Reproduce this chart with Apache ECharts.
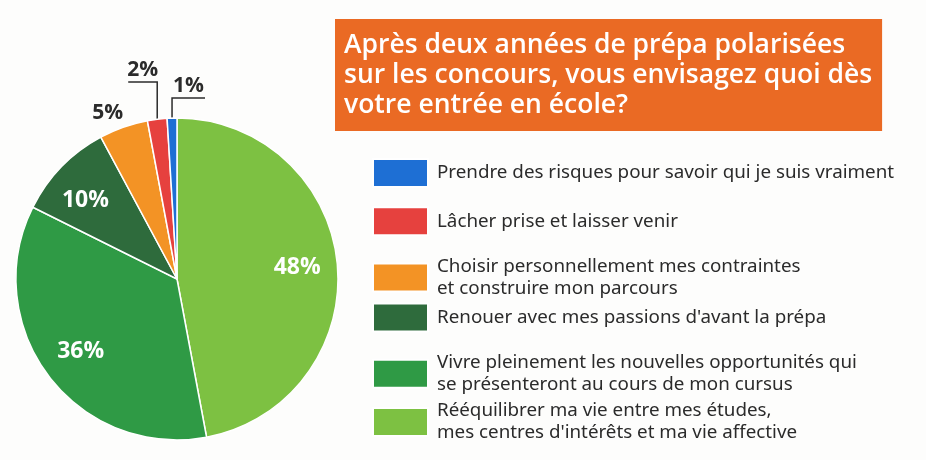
<!DOCTYPE html>
<html>
<head>
<meta charset="UTF-8">
<title>Après deux années de prépa</title>
<script src="https://cdn.jsdelivr.net/npm/echarts@6/dist/echarts.min.js"></script>
<style>
  html, body { margin: 0; padding: 0; background: #fdfdfc; }
  #main { width: 926px; height: 460px; }
</style>
</head>
<body>
<div id="main"></div>
<script>
// réponses, dans l'ordre du camembert (sens horaire depuis midi)
var names = [
  "Rééquilibrer ma vie entre mes études,\nmes centres d'intérêts et ma vie affective",
  "Vivre pleinement les nouvelles opportunités qui\nse présenteront au cours de mon cursus",
  "Renouer avec mes passions d'avant la prépa",
  "Choisir personnellement mes contraintes\net construire mon parcours",
  "Lâcher prise et laisser venir",
  "Prendre des risques pour savoir qui je suis vraiment"
];
var values = [48, 36, 10, 5, 2, 1];
var colors = ['#7dc142', '#2f9a45', '#2e6b3c', '#f39325', '#e6413e', '#1e6fd4'];
var titleText = "Après deux années de prépa polarisées\nsur les concours, vous envisagez quoi dès\nvotre entrée en école?";

var cx = 177, cy = 279, R = 161;
var total = values.reduce(function (a, b) { return a + b; }, 0);

// angle milieu de chaque part, en radians depuis midi, sens horaire
function midAngle(i) {
  var before = 0;
  for (var k = 0; k < i; k++) before += values[k];
  return (before + values[i] / 2) / total * Math.PI * 2;
}
function polar(a, r) {
  return [cx + r * Math.sin(a), cy - r * Math.cos(a)];
}

var myChart = echarts.init(document.getElementById('main'));

// légende : un bloc par ligne pour garder un pas régulier
var legends = [];
for (var i = names.length - 1; i >= 0; i--) {
  var row = names.length - 1 - i;
  legends.push({
    orient: 'vertical',
    left: 372,
    top: 158 + row * 48.2,
    padding: 0,
    itemWidth: 55,
    itemHeight: 28,
    icon: 'rect',
    selectedMode: false,
    data: [names[i]],
    textStyle: {
      fontFamily: 'Noto Sans',
      fontSize: 18.8,
      color: '#2b2b2b',
      lineHeight: 22,
      padding: [0, 0, 2, 4]
    }
  });
}

var pieData = values.map(function (v, i) {
  var d = { name: names[i], value: v, itemStyle: { color: colors[i] } };
  if (v < 8) {
    d.label = {
      position: 'outside',
      color: '#2b2b2b',
      fontSize: 21
    };
    d.labelLine = { show: v < 4 };
  }
  return d;
});

var option = {
  backgroundColor: '#fdfdfc',
  title: {
    text: titleText,
    left: 335,
    top: 19,
    backgroundColor: '#ea6a24',
    padding: [11, 10, 11, 9],
    textStyle: {
      fontFamily: 'Open Sans',
      fontWeight: 600,
      fontSize: 26.5,
      lineHeight: 30,
      color: '#ffffff',
      width: 526
    }
  },
  legend: legends,
  series: [{
    type: 'pie',
    center: [cx, cy],
    radius: R,
    startAngle: 90,
    clockwise: true,
    avoidLabelOverlap: false,
    silent: true,
    itemStyle: { borderColor: '#ffffff', borderWidth: 1.5 },
    label: {
      show: true,
      position: 'inside',
      formatter: '{c}%',
      fontFamily: 'Open Sans',
      fontWeight: 'bold',
      fontSize: 23,
      color: '#ffffff'
    },
    labelLine: {
      show: false,
      lineStyle: { color: '#2b2b2b', width: 1.5 }
    },
    labelLayout: function (p) {
      var i = p.dataIndex;
      var a = midAngle(i);
      var edge = polar(a, R);
      if (values[i] >= 8) {
        var pt = polar(a - (values[i] < 20 ? 0.06 : 0), R * 0.75);
        return { x: pt[0], y: pt[1], align: 'center', verticalAlign: 'middle' };
      }
      if (values[i] >= 4) {
        var po = polar(a - 0.056, R + 19);
        return { x: po[0], y: po[1], align: 'center', verticalAlign: 'middle' };
      }
      // petites parts : trait vertical puis horizontal, étiquette posée dessus
      var up = edge[1] - (cy - R - 36);
      var dir = -1, len = 29;
      if (i === values.length - 1) { up = edge[1] - (cy - R - 20); dir = 1; len = 33; }
      var p1 = [edge[0], edge[1] - up];
      var p2 = [p1[0] + dir * len, p1[1]];
      return {
        x: (p1[0] + p2[0]) / 2,
        y: p1[1] - 1,
        align: 'center',
        verticalAlign: 'bottom',
        labelLinePoints: [edge, p1, p2]
      };
    },
    data: pieData
  }]
};

myChart.setOption(option);
</script>
</body>
</html>
